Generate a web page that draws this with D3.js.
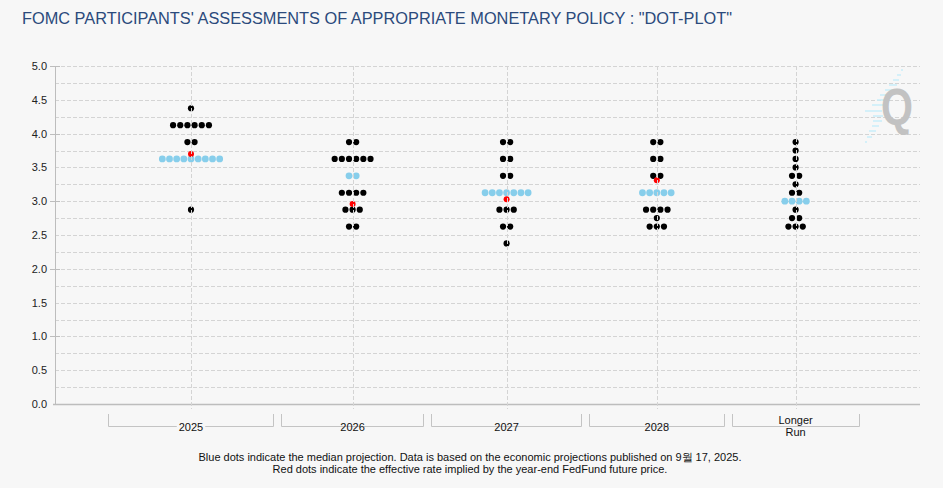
<!DOCTYPE html>
<html>
<head>
<meta charset="utf-8">
<script src="https://cdn.jsdelivr.net/npm/d3@7/dist/d3.min.js"></script>
<style>
    html, body { margin: 0; padding: 0; background: #f7f7f7; }
    svg { display: block; font-family: "Liberation Sans", Arial, sans-serif; }
</style>
</head>
<body>
<div id="chart"></div>
<script>
// FOMC dot plot

const categories = ['2025', '2026', '2027', '2028', 'Longer Run'];

// [rate, number of participants] per row
const dots2025 = [[4.375, 1], [4.125, 6], [3.875, 2], [3.625, 9], [2.875, 1]];
const dots2026 = [[3.875, 2], [3.625, 6], [3.375, 2], [3.125, 4], [2.875, 3], [2.625, 2]];
const dots2027 = [[3.875, 2], [3.625, 2], [3.375, 2], [3.125, 7], [2.875, 3], [2.625, 2], [2.375, 1]];
const dots2028 = [[3.875, 2], [3.625, 2], [3.375, 2], [3.125, 5], [2.875, 4], [2.75, 1], [2.625, 3]];
const dotsLongerRun = [[3.875, 1], [3.75, 1], [3.625, 1], [3.5, 1], [3.375, 2], [3.25, 1],
    [3.125, 2], [3.0, 4], [2.875, 1], [2.75, 2], [2.625, 3]];

const medians = [3.625, 3.375, 3.125, 3.125, 3.0];
// rate implied by year-end fed funds futures (none for the longer run)
const futures = [3.70, 2.96, 3.03, 3.31, null];

const yTicks = [0, 0.5, 1, 1.5, 2, 2.5, 3, 3.5, 4, 4.5, 5];

const titleText = 'FOMC PARTICIPANTS\' ASSESSMENTS OF APPROPRIATE MONETARY POLICY : "DOT-PLOT"';
const noteLines = [
    'Blue dots indicate the median projection. Data is based on the economic projections published on 9월 17, 2025.',
    'Red dots indicate the effective rate implied by the year-end FedFund future price.'
];

const allDots = [dots2025, dots2026, dots2027, dots2028, dotsLongerRun];

const width = 943;
const height = 488;
const plot = { left: 55, right: 920, top: 66, bottom: 404 };
const dotStep = 7.17;
const gridColor = '#d4d4d4';

const svg = d3.select('#chart')
    .append('svg')
    .attr('width', width)
    .attr('height', height);

svg.append('rect')
    .attr('width', width)
    .attr('height', height)
    .attr('fill', '#f7f7f7');

// title
svg.append('text')
    .attr('x', 22)
    .attr('y', 24)
    .attr('fill', '#2b4a7c')
    .attr('textLength', 710)
    .attr('lengthAdjust', 'spacingAndGlyphs')
    .style('font-size', '16px')
    .text(titleText);

const y = d3.scaleLinear()
    .domain([0, 5])
    .range([plot.bottom, plot.top]);

// each category band is as wide as its widest row of dots needs
let bands = [];
let x0 = 108;
categories.forEach(function (c, i) {
    let maxDots = d3.max(allDots[i], function (d) { return d[1]; });
    let w = 97.6 + 7.6 * maxDots;
    bands.push({ name: c, x0: x0, x1: x0 + w, cx: x0 + w / 2 });
    x0 += w + 7;
});

// horizontal grid, every quarter point
const gridVals = d3.range(0.25, 5.01, 0.25);
svg.append('g')
    .selectAll('line')
    .data(gridVals)
    .join('line')
    .attr('x1', plot.left)
    .attr('x2', plot.right)
    .attr('y1', function (d) { return Math.round(y(d)) + 0.5; })
    .attr('y2', function (d) { return Math.round(y(d)) + 0.5; })
    .attr('stroke', gridColor)
    .attr('stroke-dasharray', '4,2');

// axes
const yAxis = d3.axisLeft(y)
    .tickValues(yTicks)
    .tickFormat(d3.format('.1f'))
    .tickSize(0)
    .tickPadding(8);

let gy = svg.append('g')
    .attr('transform', 'translate(' + plot.left + ',0)')
    .call(yAxis);
gy.select('.domain').remove();
gy.selectAll('text')
    .attr('fill', '#222')
    .style('font-size', '11px')
    .style('font-family', '"Liberation Sans", Arial, sans-serif');

// major ticks at whole numbers
svg.append('g')
    .selectAll('line')
    .data(yTicks.filter(function (d) { return d % 1 === 0 && d > 0; }))
    .join('line')
    .attr('x1', plot.left - 5)
    .attr('x2', plot.left + 5)
    .attr('y1', function (d) { return Math.round(y(d)) + 0.5; })
    .attr('y2', function (d) { return Math.round(y(d)) + 0.5; })
    .attr('stroke', '#bdbdbd');

svg.append('line')
    .attr('x1', plot.left + 0.5)
    .attr('x2', plot.left + 0.5)
    .attr('y1', plot.top)
    .attr('y2', plot.bottom)
    .attr('stroke', '#bdbdbd');

svg.append('line')
    .attr('x1', plot.left - 2)
    .attr('x2', plot.right)
    .attr('y1', plot.bottom + 0.5)
    .attr('y2', plot.bottom + 0.5)
    .attr('stroke', '#bdbdbd')
    .attr('stroke-width', 1.5);

// dots
const dotLayer = svg.append('g');
bands.forEach(function (b, i) {
    let rows = allDots[i];
    let pts = [];
    rows.forEach(function (r) {
        let n = r[1];
        for (let k = 0; k < n; k++) {
            pts.push({
                x: b.cx + (k - (n - 1) / 2) * dotStep,
                y: y(r[0]),
                median: r[0] === medians[i]
            });
        }
    });
    dotLayer.append('g')
        .selectAll('circle')
        .data(pts)
        .join('circle')
        .attr('cx', function (d) { return d.x; })
        .attr('cy', function (d) { return d.y; })
        .attr('r', function (d) { return d.median ? 3.4 : 3.1; })
        .attr('fill', function (d) { return d.median ? '#87ceeb' : '#000'; });

    if (futures[i] !== null) {
        dotLayer.append('circle')
            .attr('cx', b.cx)
            .attr('cy', y(futures[i]))
            .attr('r', 3)
            .attr('fill', '#ff0000');
    }
});

// vertical grid at each category, drawn over the dots
svg.append('g')
    .selectAll('line')
    .data(bands)
    .join('line')
    .attr('x1', function (d) { return Math.round(d.cx) + 0.5; })
    .attr('x2', function (d) { return Math.round(d.cx) + 0.5; })
    .attr('y1', plot.top)
    .attr('y2', plot.bottom + 5)
    .attr('stroke', gridColor)
    .attr('stroke-dasharray', '4,2');

// category brackets under the axis
const bracketTop = 414;
const bracketLine = 426.5;
let gb = svg.append('g');
bands.forEach(function (b) {
    gb.append('path')
        .attr('d', 'M' + (Math.round(b.x0) + 0.5) + ',' + bracketTop +
            'V' + bracketLine + 'H' + (Math.round(b.x1) - 0.5) + 'V' + bracketTop)
        .attr('fill', 'none')
        .attr('stroke', '#c4c4c4');

    let words = b.name.split(' ');
    let lbl = gb.append('text')
        .attr('text-anchor', 'middle')
        .attr('fill', '#111')
        .style('font-size', '11px');
    if (words.length === 1) {
        lbl.append('tspan').attr('x', b.cx).attr('y', 431).text(words[0]);
    } else {
        lbl.append('tspan').attr('x', b.cx).attr('y', 423.5).text(words[0]);
        lbl.append('tspan').attr('x', b.cx).attr('y', 435.5).text(words[1]);
    }
    // knock the bracket line out behind the label
    let bb = lbl.node().getBBox();
    gb.insert('rect', 'text')
        .attr('x', bb.x - 2)
        .attr('y', bracketLine - 1.5)
        .attr('width', bb.width + 4)
        .attr('height', 3)
        .attr('fill', '#f7f7f7');
});

// footnote
svg.append('g')
    .selectAll('text')
    .data(noteLines)
    .join('text')
    .attr('x', 470)
    .attr('y', function (d, i) { return 461 + i * 11.5; })
    .attr('text-anchor', 'middle')
    .attr('fill', '#111')
    .style('font-size', '11px')
    .text(function (d) { return d; });

// watermark logo
function drawLogo(g) {
    // speed stripes left of the Q: [y, x start, x end]
    const stripes = [[70, 901, 903], [75, 897, 901], [80, 893, 899], [85, 889, 897], [90, 885, 895],
        [95, 880, 887], [100, 877, 884], [105, 872, 883], [111, 865, 882], [116, 873, 883],
        [121, 873, 882], [126, 872, 879], [131, 869, 876], [137, 867, 872], [142, 865, 867]];
    g.selectAll('line')
        .data(stripes)
        .join('line')
        .attr('x1', function (d) { return d[1]; })
        .attr('x2', function (d) { return d[2]; })
        .attr('y1', function (d) { return d[0]; })
        .attr('y2', function (d) { return d[0]; })
        .attr('stroke', '#c8eefa')
        .attr('stroke-width', 1.5);
    g.append('text')
        .attr('x', 881)
        .attr('y', 125)
        .attr('fill', '#c2c2c2')
        .attr('textLength', 32)
        .attr('lengthAdjust', 'spacingAndGlyphs')
        .style('font-size', '52px')
        .style('font-weight', 'bold')
        .text('Q');
}
drawLogo(svg.append('g'));
</script>
</body>
</html>
